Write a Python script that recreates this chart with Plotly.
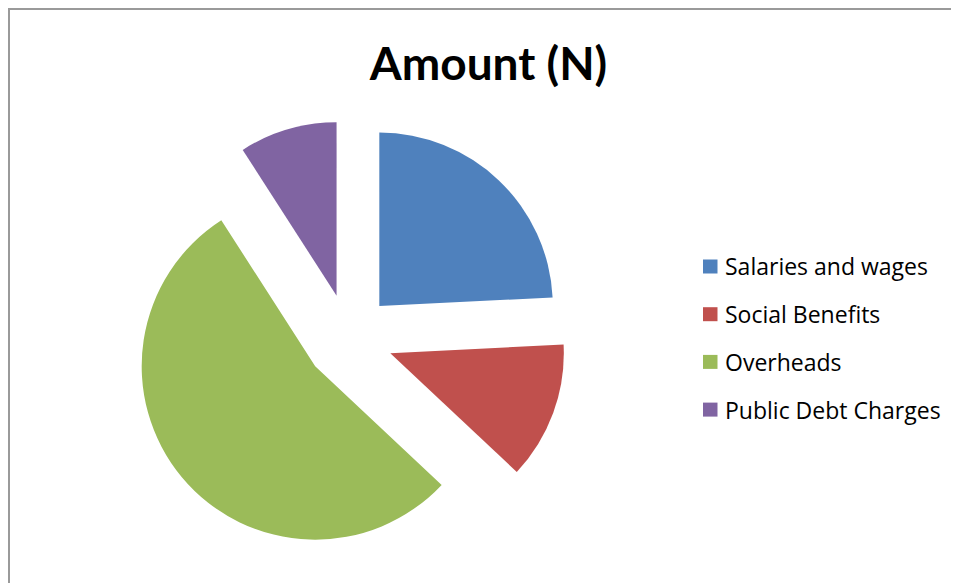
import plotly.graph_objects as go

# ---- data ----
labels = ["Salaries and wages", "Social Benefits", "Overheads", "Public Debt Charges"]
values = [24.2, 12.8, 53.9, 9.1]
colors = ["#4F81BD", "#C0504D", "#9BBB59", "#8064A2"]
title_text = "Amount (N)"

# ---- layout (figure pixels; page shows figure offset by 8px body margin) ----
W, H = 951, 575
cx, cy = 341, 330          # pie centre
PULL = 0.2536
HALF = 217.5               # r * (1 + pull)

fig = go.Figure(go.Pie(
    labels=labels, values=values, sort=False, direction="clockwise", rotation=0,
    marker=dict(colors=colors, line=dict(width=0)),
    pull=[PULL] * len(values), textinfo="none", hoverinfo="label+value",
    showlegend=False,
    domain=dict(x=[(cx - HALF) / W, (cx + HALF) / W],
                y=[(H - cy - HALF) / H, (H - cy + HALF) / H]),
))

# legend drawn as squares + text
leg_x_sq, sq_w, sq_h = 695, 14.5, 14
leg_x_txt = 715
leg_y0, leg_dy = 258.5, 47.7
shapes = []
annotations = []
for i, (lab, col) in enumerate(zip(labels, colors)):
    yc = leg_y0 + i * leg_dy
    shapes.append(dict(type="rect", xref="paper", yref="paper",
                       x0=leg_x_sq / W, x1=(leg_x_sq + sq_w) / W,
                       y0=1 - (yc + sq_h / 2) / H, y1=1 - (yc - sq_h / 2) / H,
                       fillcolor=col, line=dict(width=0)))
    annotations.append(dict(text=lab, xref="paper", yref="paper",
                            x=leg_x_txt / W, y=1 - yc / H, xanchor="left", yanchor="middle",
                            showarrow=False,
                            font=dict(size=23, family="Open Sans, Calibri, sans-serif", color="#000")))

# chart border (top and left edges visible)
shapes += [
    dict(type="line", xref="paper", yref="paper", x0=0, x1=1.02, y0=1 - 1 / H, y1=1 - 1 / H,
         line=dict(color="#9a9a9a", width=2)),
    dict(type="line", xref="paper", yref="paper", x0=1 / W, x1=1 / W, y0=-0.02, y1=1,
         line=dict(color="#9a9a9a", width=2)),
]

fig.update_layout(
    width=W, height=H, margin=dict(l=0, r=0, t=0, b=0),
    paper_bgcolor="white", plot_bgcolor="white",
    title=dict(text="<b>" + title_text + "</b>", x=480.5 / W, xanchor="center",
               xref="paper", yref="container", y=1 - 55.9 / H, yanchor="middle",
               font=dict(size=46, family="Lato, sans-serif", color="#000")),
    shapes=shapes, annotations=annotations,
)

fig.write_html("out.html")
